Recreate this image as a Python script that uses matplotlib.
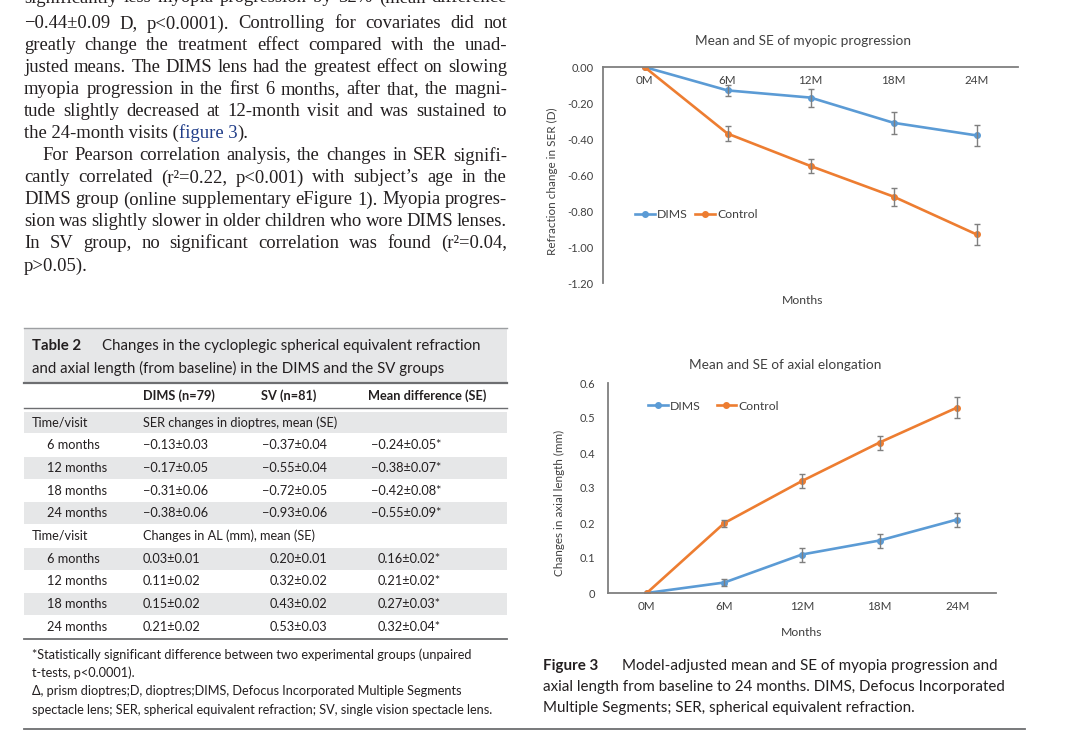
import numpy as np
import matplotlib.pyplot as plt
from matplotlib.patches import Rectangle

# data (Table 2 / Figure 3)
months = ['0M', '6M', '12M', '18M', '24M']
visits = ['6 months', '12 months', '18 months', '24 months']

dims_ser = [-0.13, -0.17, -0.31, -0.38]
dims_ser_se = [0.03, 0.05, 0.06, 0.06]
sv_ser = [-0.37, -0.55, -0.72, -0.93]
sv_ser_se = [0.04, 0.04, 0.05, 0.06]
diff_ser = [-0.24, -0.38, -0.42, -0.55]
diff_ser_se = [0.05, 0.07, 0.08, 0.09]

dims_al = [0.03, 0.11, 0.15, 0.21]
dims_al_se = [0.01, 0.02, 0.02, 0.02]
sv_al = [0.20, 0.32, 0.43, 0.53]
sv_al_se = [0.01, 0.02, 0.02, 0.03]
diff_al = [0.16, 0.21, 0.27, 0.32]
diff_al_se = [0.02, 0.02, 0.03, 0.04]

ser_ticks = [0.0, -0.2, -0.4, -0.6, -0.8, -1.0, -1.2]
ser_tick_labels = ['0.00', '-0.20', '-0.40', '-0.60', '-0.80', '-1.00', '-1.20']
al_ticks = [0.0, 0.1, 0.2, 0.3, 0.4, 0.5, 0.6]
al_tick_labels = ['0', '0.1', '0.2', '0.3', '0.4', '0.5', '0.6']

body = [
    "significantly less myopia progression by 32% (mean difference",
    "\u22120.44\u00b10.09 D, p<0.0001). Controlling for covariates did not",
    "greatly change the treatment effect compared with the unad-",
    "justed means. The DIMS lens had the greatest effect on slowing",
    "myopia progression in the first 6 months, after that, the magni-",
    "tude slightly decreased at 12-month visit and was sustained to",
    None,
    "For Pearson correlation analysis, the changes in SER signifi-",
    "cantly correlated (r\u00b2=0.22, p<0.001) with subject\u2019s age in the",
    "DIMS group (online supplementary eFigure 1). Myopia progres-",
    "sion was slightly slower in older children who wore DIMS lenses.",
    "In SV group, no significant correlation was found (r\u00b2=0.04,",
    None,
]

BLUE = '#5b9bd5'
ORANGE = '#ed7d31'
INK = '#231f20'
BAND = '#e6e7e8'
SERIF = 'Liberation Serif'
SANS = 'Lato'
CHART_TXT = '#404040'

plt.rcParams['font.family'] = [SANS, 'DejaVu Sans']

fig = plt.figure(figsize=(10.8, 7.31), dpi=100)
page = fig.add_axes([0, 0, 1, 1])
page.set_xlim(0, 1080)
page.set_ylim(731, 0)
page.axis('off')
renderer = fig.canvas.get_renderer()


def width(t):
    return t.get_window_extent(renderer).width


def runs(x, y, parts, **kw):
    # parts: list of (text, color)
    for s, c in parts:
        t = page.text(x, y, s, color=c, va='center', ha='left', **kw)
        x += width(t)


def justify(s, y, x0, x1, **kw):
    words = s.split(' ')
    ts = [page.text(0, y, w, color=INK, va='center', ha='left', **kw) for w in words]
    ws = [width(t) for t in ts]
    gap = (x1 - x0 - sum(ws)) / (len(words) - 1)
    x = x0
    for t, w in zip(ts, ws):
        t.set_x(x)
        x += w + gap


# ---- left column body text
tkw = dict(family=SERIF, fontsize=13.4)
line_y = [-2, 24, 46, 68, 90, 112, 133, 156, 178, 200, 222, 243, 266]
for i, (s, y) in enumerate(zip(body, line_y)):
    if s is None:
        continue
    x0 = 42 if i == 7 else 24
    justify(s, y, x0, 507, **tkw)
runs(24, 133, [("the 24-month visits (", INK), ("figure 3", '#1f3c88'), (").", INK)], **tkw)
runs(24, 266, [("p>0.05).", INK)], **tkw)

# ---- Table 2
page.add_patch(Rectangle((24, 328), 483, 54, color=BAND, lw=0))
page.plot([24, 507], [328, 328], color='#9d9fa2', lw=1)
page.plot([24, 507], [382.5, 382.5], color='#6d6e71', lw=1.6)
page.plot([24, 507], [408, 408], color='#6d6e71', lw=1)
page.plot([24, 507], [639, 639], color='#6d6e71', lw=1.3)
runs(32, 346, [("Table 2", INK)], fontsize=10.8, fontweight='bold')
runs(102, 346, [("Changes in the cycloplegic spherical equivalent refraction", INK)], fontsize=10.8)
runs(32, 368, [("and axial length (from baseline) in the DIMS and the SV groups", INK)], fontsize=10.8)

ckw = dict(fontsize=9.2, color=INK, va='center')
page.text(143, 396, "DIMS (n=79)", fontweight='bold', **ckw)
page.text(261, 396, "SV (n=81)", fontweight='bold', **ckw)
page.text(368, 396, "Mean difference (SE)", fontweight='bold', **ckw)


def fmt(m, s):
    return f"{m:.2f}\u00b1{s:.2f}".replace('-', '\u2212')


rows = [("Time/visit", "SER changes in dioptres, mean (SE)", None, None)]
for v, a, ae, b, be, d, de in zip(visits, dims_ser, dims_ser_se, sv_ser, sv_ser_se, diff_ser, diff_ser_se):
    rows.append((v, fmt(a, ae), fmt(b, be), fmt(d, de) + '*'))
rows.append(("Time/visit", "Changes in AL (mm), mean (SE)", None, None))
for v, a, ae, b, be, d, de in zip(visits, dims_al, dims_al_se, sv_al, sv_al_se, diff_al, diff_al_se):
    rows.append((v, fmt(a, ae), fmt(b, be), fmt(d, de) + '*'))

row_h = 22.7
for i, (lab, c1, c2, c3) in enumerate(rows):
    yc = 422.5 + i * row_h
    if i % 2 == 0:
        page.add_patch(Rectangle((24, yc - row_h / 2 + 0.5), 483, row_h - 1, color=BAND, lw=0))
    page.text(32 if lab == "Time/visit" else 47, yc, lab, **ckw)
    page.text(143, yc, c1, **ckw)
    if c2 is not None:
        page.text(327, yc, c2, ha='right', **ckw)
        page.text(441, yc, c3, ha='right', **ckw)

foot = ["*Statistically significant difference between two experimental groups (unpaired",
        "t-tests, p<0.0001).",
        "\u0394, prism dioptres;D, dioptres;DIMS, Defocus Incorporated Multiple Segments",
        "spectacle lens; SER, spherical equivalent refraction; SV, single vision spectacle lens."]
for s, y in zip(foot, [655, 673, 691, 710]):
    page.text(32, y, s, fontsize=9.2, color=INK, va='center')

page.plot([24, 1025], [729, 729], color='#6d6e71', lw=1.3)

# ---- Figure 3 caption
runs(543, 666, [("Figure 3", INK)], fontsize=10.9, fontweight='bold')
runs(622, 666, [("Model-adjusted mean and SE of myopia progression and", INK)], fontsize=10.9)
runs(543, 687, [("axial length from baseline to 24 months. DIMS, Defocus Incorporated", INK)], fontsize=10.9)
runs(543, 708, [("Multiple Segments; SER, spherical equivalent refraction.", INK)], fontsize=10.9)


# ---- charts
def ax_rect(l, t, r, b):
    return [l / 1080, 1 - b / 731, (r - l) / 1080, (b - t) / 731]


def chart(ax, dims, dims_se, ctrl, ctrl_se, ticks, tick_labels, ylim):
    x = np.arange(len(months))
    for s in ['top', 'right']:
        ax.spines[s].set_visible(False)
    for s in ['left', 'bottom']:
        ax.spines[s].set_color('#7f7f7f')
        ax.spines[s].set_linewidth(1.3)
    ax.spines['bottom'].set_position(('data', 0))
    for m, se, c, lab in [(dims, dims_se, BLUE, 'DIMS'), (ctrl, ctrl_se, ORANGE, 'Control')]:
        y = np.r_[0.0, m]
        e = np.r_[np.nan, se]
        ax.plot(x, y, color=c, lw=1.9, marker='o', ms=4, label=lab, zorder=2)
        ax.errorbar(x, y, yerr=e, fmt='none', ecolor='#7f7f7f', elinewidth=1,
                    capsize=2.2, capthick=1, zorder=3)
    ax.set_xlim(-0.5, len(months) - 0.5)
    ax.set_ylim(*ylim)
    ax.set_xticks(x, months)
    ax.set_yticks(ticks, tick_labels)
    ax.tick_params(length=0, labelcolor=CHART_TXT)
    ax.tick_params(axis='x', pad=6, labelsize=8.4)
    ax.tick_params(axis='y', pad=7, labelsize=8.0)
    ax.patch.set_alpha(0)


ax1 = fig.add_axes(ax_rect(603, 67, 1018, 283))
chart(ax1, dims_ser, dims_ser_se, sv_ser, sv_ser_se, ser_ticks, ser_tick_labels, (-1.2, 0))
ax1.text(0.482, 1.12, "Mean and SE of myopic progression", transform=ax1.transAxes,
         ha='center', va='center', fontsize=9.8, color=CHART_TXT)
ax1.text(0.482, -0.083, "Months", transform=ax1.transAxes,
         ha='center', va='center', fontsize=8.8, color=CHART_TXT)
ax1.set_ylabel("Refraction change in SER (D)", fontsize=8.4, color=CHART_TXT)
ax1.yaxis.set_label_coords(-0.108, 0.47)
ax1.legend(loc='center left', bbox_to_anchor=(0.077, 0.315), ncol=2, frameon=False,
           borderpad=0, borderaxespad=0, handlelength=1.6, handletextpad=0.2,
           columnspacing=0.6, fontsize=8.8, labelcolor=CHART_TXT)

ax2 = fig.add_axes(ax_rect(608, 383, 996, 593))
chart(ax2, dims_al, dims_al_se, sv_al, sv_al_se, al_ticks, al_tick_labels, (0, 0.6))
ax2.tick_params(axis='y', pad=9)
ax2.text(0.456, 1.086, "Mean and SE of axial elongation", transform=ax2.transAxes,
         ha='center', va='center', fontsize=9.8, color=CHART_TXT)
ax2.text(0.5, -0.19, "Months", transform=ax2.transAxes,
         ha='center', va='center', fontsize=8.8, color=CHART_TXT)
ax2.set_ylabel("Changes in axial length (mm)", fontsize=8.4, color=CHART_TXT)
ax2.yaxis.set_label_coords(-0.111, 0.43)
ax2.legend(loc='center left', bbox_to_anchor=(0.103, 0.89), ncol=2, frameon=False,
           borderpad=0, borderaxespad=0, handlelength=1.6, handletextpad=0.2,
           columnspacing=1.3, fontsize=8.8, labelcolor=CHART_TXT)

fig.savefig('out.png', dpi=100)
